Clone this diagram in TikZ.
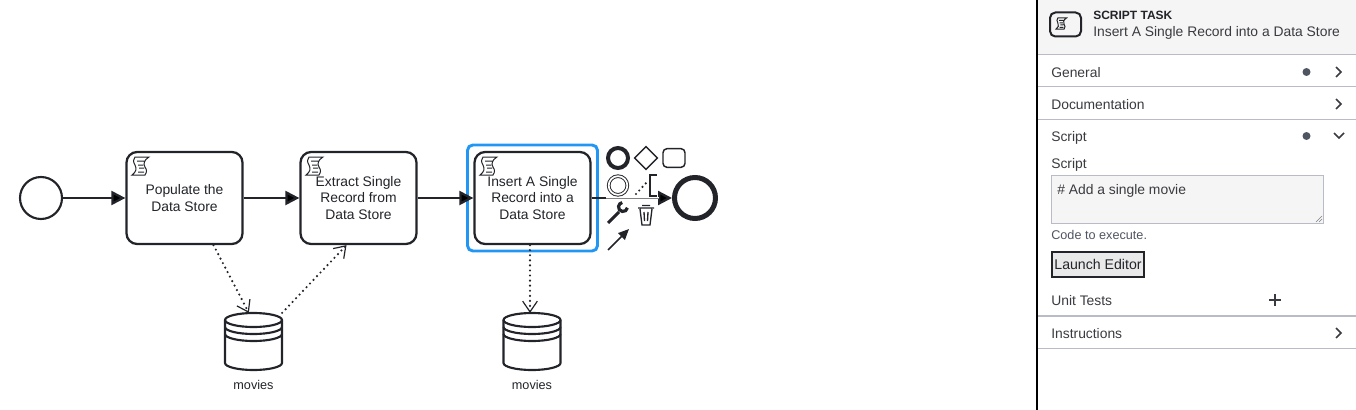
\documentclass[tikz,border=0pt]{standalone}
\usepackage{fontspec}
\setmainfont{Liberation Sans}
\usetikzlibrary{positioning}
\usetikzlibrary{arrows.meta}
\usetikzlibrary{shapes.geometric}
\definecolor{inkdark}{HTML}{22242A}
\definecolor{selblue}{HTML}{2196F3}
\definecolor{panelgrey}{HTML}{F5F5F5}
\definecolor{rulegrey}{HTML}{B9BCC6}
\definecolor{textgrey}{HTML}{3A3B40}
\definecolor{dotgrey}{HTML}{505562}
\tikzset{
  taskbox/.style={draw=inkdark,line width=1.7pt,rounded corners=8pt,minimum width=87pt,minimum height=69pt,inner sep=0pt,align=center,font=\fontsize{10.4}{12.3}\selectfont,text=inkdark},
  flow/.style={draw=inkdark,line width=1.7pt,-{Triangle[length=10.5pt,width=10.5pt]}},
  assoc/.style={draw=inkdark,line width=1.8pt,line cap=round,dash pattern=on 0pt off 3.8pt,-{Straight Barb[length=8pt,width=11pt,line width=.9pt,sep=0pt]}},
  storebox/.style={minimum width=42.5pt,minimum height=42.5pt,inner sep=0pt},
  caption/.style={font=\fontsize{9.5}{11}\selectfont,text=inkdark},
  rowtext/.style={anchor=base west,inner sep=0pt,font=\fontsize{10.4}{12}\selectfont,text=textgrey},
  rowrule/.style={draw=rulegrey,line width=.75pt},
  chev/.style={draw=textgrey,line width=1.2pt},
  padicon/.style={draw=inkdark,inner sep=0pt,minimum size=#1}
}
% script marker, drawn from the corner of its task
\newcommand{\scriptmark}[2][1]{
  \draw[inkdark,line width=.75pt,shift={(#2)},scale=#1]
    (3,0) -- (17,0) .. controls (12,3) and (11,7) .. (13,10) .. controls (15,13) and (15,15) .. (13,18) -- (0,18)
    .. controls (4,15) and (5,12) .. (3,8) .. controls (1,5) and (1,2) .. (3,0) -- cycle
    (5,4) -- (12,4) (6,8) -- (11,8) (7,11) -- (12,11) (6,15) -- (12,15);
}
% drum of a data store around its node
\newcommand{\drumstore}[1]{
  \begin{scope}[shift={(#1.center)},inkdark,line width=1.6pt]
    \draw (-28.5,-21.5) arc[start angle=180,end angle=360,x radius=28.5,y radius=7]
      -- (28.5,21.5) arc[start angle=0,end angle=180,x radius=28.5,y radius=7] -- cycle;
    \foreach \ydrum in {-21.5,-14.5,-7.5}
      \draw (-28.5,\ydrum) arc[start angle=180,end angle=0,x radius=28.5,y radius=7];
  \end{scope}
}
\begin{document}
\begin{tikzpicture}[x=.75pt,y=-.75pt]
  \useasboundingbox (0,0) rectangle (1356,410);

  % the process
  \node[circle,draw=inkdark,line width=1.6pt,minimum size=31.5pt,inner sep=0pt] (start) at (41,198) {};
  \node[taskbox] (populate) at (184.5,198) {Populate the\\Data Store};
  \node[taskbox,right=41.8pt of populate] (extract) {Extract Single\\Record from\\Data Store};
  \node[taskbox,right=41.8pt of extract] (insert) {Insert A Single\\Record into a\\Data Store};
  \node[draw=selblue,line width=2.2pt,rounded corners=4pt,minimum width=97.5pt,minimum height=79.5pt] (select) at (insert) {};
  \node[circle,draw=inkdark,line width=3.75pt,minimum size=30.75pt,inner sep=0pt] (finish) at (695,198) {};
  \scriptmark{132,157}
  \scriptmark{306,157}
  \scriptmark{480,157}

  \path[flow]
    (start) edge (populate)
    (populate) edge (extract)
    (extract) edge (insert)
    (insert) edge (finish);

  % the pad over the last flow
  \draw[white,line width=1.9pt] ([xshift=11pt]insert.east) -- ([xshift=-10pt]finish.west);
  \draw[gray,line width=.6pt] ([xshift=11pt]insert.east) -- ([xshift=-10pt]finish.west);
  \node[padicon=15pt,circle,line width=3pt] (padend) at (618,158) {};
  \node[padicon=17.5pt,diamond,line width=1.1pt] (padgate) at (646,158) {};
  \node[padicon=14pt,rounded corners=3pt,line width=1.1pt,minimum width=16.5pt] (padtask) at (674,158) {};
  \node[padicon=14pt,circle,line width=.7pt,double,double distance=1.3pt] (padinter) at (618,185.5) {};
  \coordinate (dotfrom) at (636,194);
  \coordinate (dotto) at (647,182);
  \draw[inkdark,line width=1.8pt,line cap=round,dash pattern=on 0pt off 3.6pt] (dotfrom) -- (dotto);
  \draw[inkdark,line width=1.2pt] (657,175) -- (650,175) -- (650,196) -- (657,196);
  \draw[inkdark,line width=2.2pt] (608,223) -- (619,212);
  \draw[inkdark,line width=2.4pt] (623,207) ++(10:4.5) arc[start angle=10,end angle=260,radius=4.5];
  \draw[inkdark,line width=1pt] (638,208) -- (654,208) (642,205.5) -- (650,205.5)
    (640,209) -- (642,225) -- (650,225) -- (652,209) (644,212) -- (644.5,221) (648,212) -- (647.5,221);
  \coordinate (arrowtail) at (608,250);
  \coordinate (arrowtip) at (629,229);
  \draw[inkdark,line width=1.2pt,-{Triangle[length=8pt,width=7pt]}] (arrowtail) -- (arrowtip);

  % stores
  \node[storebox] (storeA) at (253.5,341.5) {};
  \node[storebox] (storeB) at (532,341.5) {};
  \drumstore{storeA}
  \drumstore{storeB}
  \node[caption,below=4pt of storeA] (captionA) {movies};
  \node[caption,below=4pt of storeB] (captionB) {movies};
  \draw[assoc] ([xshift=21.75pt]populate.south) -- ([xshift=-3.5pt]storeA.north);
  \draw[assoc] (storeA.north east) -- ([xshift=-9pt]extract.south);
  \draw[assoc] ([xshift=-1.9pt]insert.south) -- ([xshift=-1.5pt]storeB.north);

  % side panel
  \fill[panelgrey] (1038,0) rectangle (1356,55);
  \draw[black,line width=1.1pt] (1037,0) -- (1037,410);
  \foreach \ypos in {55,87,119,348} \draw[rowrule] (1038,\ypos) -- (1356,\ypos);
  \draw[rulegrey,line width=1.5pt] (1038,316) -- (1356,316);
  \node[anchor=base west,font=\fontsize{9}{11}\selectfont\bfseries,text=inkdark,inner sep=0pt] (kind) at (1093,20) {SCRIPT TASK};
  \node[rowtext] (title) at (1093,36.5) {Insert A Single Record into a Data Store};
  \draw[inkdark,line width=1.5pt,rounded corners=4pt] (1050,12.5) rectangle (1081,36.5);
  \scriptmark[.62]{1056,18}
  \foreach \ybase/\rowname in {78/General,109/Documentation,141/Script,168/Script,305/Unit Tests,338/Instructions}
    \node[rowtext] (row\ybase) at (1051,\ybase) {\rowname};
  \foreach \ypos in {72,136} \fill[dotgrey] (1306.5,\ypos) circle[radius=4];
  \foreach \ypos in {72,104,333} \draw[chev] (1336,\ypos-5) -- (1341,\ypos) -- (1336,\ypos+5);
  \draw[chev] (1334,133) -- (1339,138) -- (1344,133);
  \draw[chev] (1269,300) -- (1281,300) (1275,294) -- (1275,306);
  \node[draw=rulegrey,fill=panelgrey,line width=.75pt,minimum width=204pt,minimum height=36pt,inner sep=0pt] (scriptarea) at (1187,199) {};
  \draw[gray,line width=.5pt] (1316,222) -- (1322,216) (1319,222) -- (1322,219);
  \node[rowtext] (scripttext) at (1057,194) {\# Add a single movie};
  \node[rowtext,font=\fontsize{9.5}{11}\selectfont,text=dotgrey] (hint) at (1051,239) {Code to execute.};
  \node[draw=inkdark,fill=panelgrey!95!black,line width=1.9pt,minimum width=69pt,minimum height=18.5pt,inner sep=0pt,font=\fontsize{10.6}{12}\selectfont,text=inkdark] (launch) at (1098,264.5) {Launch Editor};
\end{tikzpicture}
\end{document}
